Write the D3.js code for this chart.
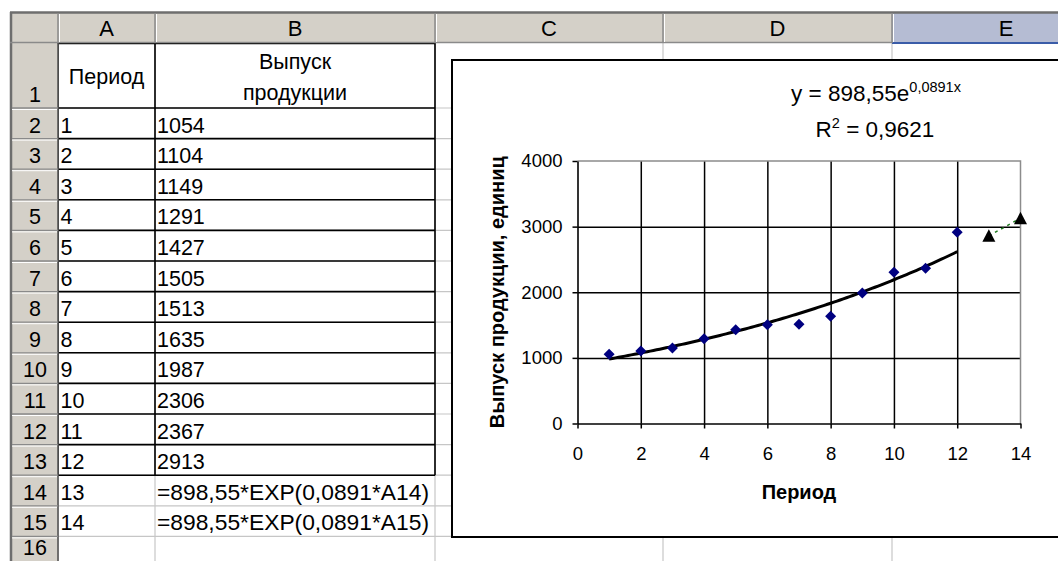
<!DOCTYPE html>
<html><head><meta charset="utf-8">
<script src="https://cdn.jsdelivr.net/npm/d3@7"></script>
<style>
body{margin:0;background:#fff;}
svg{display:block;}
text{font-family:Arial,"Liberation Sans",sans-serif;fill:#000;}
</style>
</head><body>
<svg id="c" width="1058" height="561"></svg>
<script>
// ---------- data ----------
const periods = [1,2,3,4,5,6,7,8,9,10,11,12];
const output = [1054,1104,1149,1291,1427,1505,1513,1635,1987,2306,2367,2913];
const forecastPeriods = [13,14];
const forecastOutput = [2860,3128];
const forecastFormulas = ["=898,55*EXP(0,0891*A14)","=898,55*EXP(0,0891*A15)"];
const trendCoefA = 898.55;
const trendCoefB = 0.0891;
const equationBase = "y = 898,55e";
const equationExp = "0,0891x";
const rSquaredText = " = 0,9621";
const xTickValues = [0,2,4,6,8,10,12,14];
const yTickValues = [0,1000,2000,3000,4000];
const columnLetters = ["A","B","C","D","E"];
const rowNumbers = [1,2,3,4,5,6,7,8,9,10,11,12,13,14,15,16];
const headerA = "Период";
const headerB = ["Выпуск","продукции"];
const xAxisTitle = "Период";
const yAxisTitle = "Выпуск продукции, единиц";

// ---------- sheet geometry ----------
const svg = d3.select("#c");
const colEdges = [58,155,435,663,892,1120];
const rowH = 30.6;
const rowBot = r => r===1 ? 108 : 108 + (r-1)*rowH;
const textY = r => Math.min(rowBot(r)-6, 555);
const grid = "#c6c6c6", hdr = "#d4d0c8", hdrLine = "#8a8a8a";

// light gridlines
const g0 = svg.append("g");
rowNumbers.forEach(r => {
  g0.append("line").attr("x1",58).attr("x2",1058).attr("y1",rowBot(r)).attr("y2",rowBot(r))
    .attr("stroke",grid).attr("stroke-width",1.2);
});
colEdges.forEach(x => {
  g0.append("line").attr("x1",x).attr("x2",x).attr("y1",43).attr("y2",561)
    .attr("stroke",grid).attr("stroke-width",1.2);
});

// black table borders A1:B13
const gb = svg.append("g").attr("stroke","#000").attr("stroke-width",1.6);
[58,155,435].forEach(x => gb.append("line").attr("x1",x).attr("x2",x).attr("y1",43).attr("y2",rowBot(13)));
gb.append("line").attr("x1",58).attr("x2",435).attr("y1",43.5).attr("y2",43.5);
for (let r=1;r<=13;r++) gb.append("line").attr("x1",58).attr("x2",435).attr("y1",rowBot(r)).attr("y2",rowBot(r));

// headers
svg.append("rect").attr("x",10).attr("y",12).attr("width",1048).attr("height",31).attr("fill",hdr);
svg.append("rect").attr("x",892).attr("y",13).attr("width",166).attr("height",30).attr("fill","#b5bcd3");
svg.append("line").attr("x1",892).attr("x2",1058).attr("y1",43).attr("y2",43).attr("stroke","#3a5ca8").attr("stroke-width",2);
svg.append("rect").attr("x",10).attr("y",43).attr("width",48).attr("height",518).attr("fill",hdr);
svg.append("line").attr("x1",10).attr("x2",1058).attr("y1",12.5).attr("y2",12.5).attr("stroke","#6e6e6e").attr("stroke-width",2.5);
svg.append("line").attr("x1",11).attr("x2",11).attr("y1",12).attr("y2",561).attr("stroke","#6e6e6e").attr("stroke-width",2.5);
svg.append("line").attr("x1",10).attr("x2",892).attr("y1",42.5).attr("y2",42.5).attr("stroke",hdrLine).attr("stroke-width",1.5);
[58,155,435,663,892].forEach(x => {
  svg.append("line").attr("x1",x).attr("x2",x).attr("y1",13).attr("y2",43).attr("stroke",hdrLine).attr("stroke-width",1.5);
  svg.append("line").attr("x1",x+1.5).attr("x2",x+1.5).attr("y1",14).attr("y2",42).attr("stroke","#fff").attr("stroke-width",1);
});
svg.append("line").attr("x1",58).attr("x2",58).attr("y1",43).attr("y2",561).attr("stroke","#555").attr("stroke-width",1.6);
rowNumbers.forEach(r => {
  svg.append("line").attr("x1",12).attr("x2",58).attr("y1",rowBot(r)).attr("y2",rowBot(r)).attr("stroke",hdrLine).attr("stroke-width",1.3);
  svg.append("line").attr("x1",12).attr("x2",57).attr("y1",rowBot(r)+1.5).attr("y2",rowBot(r)+1.5).attr("stroke","#fff").attr("stroke-width",1);
});

// header letters
columnLetters.forEach((c,i) => {
  svg.append("text").attr("x",(colEdges[i]+colEdges[i+1])/2).attr("y",36)
    .attr("text-anchor","middle").attr("font-size",22).text(c);
});
// row numbers
rowNumbers.forEach(r => {
  svg.append("text").attr("x",35).attr("y",textY(r))
    .attr("text-anchor","middle").attr("font-size",21.5).text(r);
});

// cell texts
const fs = 21.5;
svg.append("text").attr("x",106.5).attr("y",84).attr("text-anchor","middle").attr("font-size",fs).text(headerA);
svg.append("text").attr("x",295).attr("y",69).attr("text-anchor","middle").attr("font-size",fs).text(headerB[0]);
svg.append("text").attr("x",295).attr("y",100).attr("text-anchor","middle").attr("font-size",fs).text(headerB[1]);
periods.forEach((p,i) => {
  const r = i+2;
  svg.append("text").attr("x",60.5).attr("y",textY(r)).attr("font-size",fs).text(p);
  svg.append("text").attr("x",157).attr("y",textY(r)).attr("font-size",fs).text(output[i]);
});
forecastPeriods.forEach((p,i) => {
  const r = 14+i;
  svg.append("text").attr("x",60.5).attr("y",textY(r)).attr("font-size",fs).text(p);
  svg.append("text").attr("x",157).attr("y",textY(r)).attr("font-size",fs)
    .attr("textLength",272).attr("lengthAdjust","spacingAndGlyphs").text(forecastFormulas[i]);
});

// ---------- chart ----------
svg.append("rect").attr("x",452).attr("y",60).attr("width",700).attr("height",477)
  .attr("fill","#fff").attr("stroke","#000").attr("stroke-width",2);

const x = d3.scaleLinear().domain([0,14]).range([577.5,1020.5]);
const y = d3.scaleLinear().domain([0,4000]).range([423.5,161]);
const plot = svg.append("g");

// gridlines
plot.append("g").attr("transform",`translate(0,${y(0)})`)
  .call(d3.axisBottom(x).tickValues(xTickValues.filter(v=>v>0 && v<14)).tickSize(-(y(0)-y(4000))).tickFormat(""))
  .call(g => { g.select(".domain").remove(); g.selectAll("line").attr("stroke","#000").attr("stroke-width",1.5); });
plot.append("g").attr("transform",`translate(${x(0)},0)`)
  .call(d3.axisLeft(y).tickValues(yTickValues.filter(v=>v>0 && v<4000)).tickSize(-(x(14)-x(0))).tickFormat(""))
  .call(g => { g.select(".domain").remove(); g.selectAll("line").attr("stroke","#000").attr("stroke-width",1.5); });
// plot-area border (grey) top and right
plot.append("path").attr("d",`M${x(0)},${y(4000)}H${x(14)}V${y(0)}`).attr("fill","none").attr("stroke","#8c8c8c").attr("stroke-width",1.5);

// axes
const xAxis = plot.append("g").attr("transform",`translate(0,${y(0)})`)
  .call(d3.axisBottom(x).tickValues(xTickValues).tickSize(5).tickPadding(18).tickSizeOuter(0).tickFormat(d3.format("d")));
const yAxis = plot.append("g").attr("transform",`translate(${x(0)},0)`)
  .call(d3.axisLeft(y).tickValues(yTickValues).tickSize(5).tickPadding(10).tickSizeOuter(0).tickFormat(d3.format("d")));
[xAxis,yAxis].forEach(a => {
  a.select(".domain").attr("stroke","#000").attr("stroke-width",1.6);
  a.selectAll(".tick line").attr("stroke","#000").attr("stroke-width",1.5);
  a.selectAll(".tick text").attr("font-size",18.5).attr("font-family","Arial, 'Liberation Sans', sans-serif").attr("fill","#000");
});

// trendline
const trendX = d3.range(1, 12.001, 0.1);
plot.append("path")
  .datum(trendX)
  .attr("d", d3.line().x(d=>x(d)).y(d=>y(trendCoefA*Math.exp(trendCoefB*d))))
  .attr("fill","none").attr("stroke","#000").attr("stroke-width",3);

// forecast dashed connector
plot.append("path").datum(forecastPeriods.map((p,i)=>[p,forecastOutput[i]]))
  .attr("d", d3.line().x(d=>x(d[0])).y(d=>y(d[1])))
  .attr("fill","none").attr("stroke","#1f7a1f").attr("stroke-width",1.5).attr("stroke-dasharray","3,4");

// diamonds
plot.selectAll(".pt").data(periods).join("path")
  .attr("transform",(d,i)=>`translate(${x(d)},${y(output[i])})`)
  .attr("d","M0,-5.5L5.5,0L0,5.5L-5.5,0Z").attr("fill","#000080");
// triangles
plot.selectAll(".tri").data(forecastPeriods).join("path")
  .attr("transform",(d,i)=>`translate(${x(d)},${y(forecastOutput[i])})`)
  .attr("d","M0,-6.5L6.5,6L-6.5,6Z").attr("fill","#000");

// equation
const eq = svg.append("text").attr("x",876).attr("y",101).attr("text-anchor","middle").attr("font-size",22.5);
eq.append("tspan").text(equationBase);
eq.append("tspan").attr("dy",-9).attr("font-size",14.5).text(equationExp);
const r2 = svg.append("text").attr("x",875).attr("y",137).attr("text-anchor","middle").attr("font-size",22.5);
r2.append("tspan").text("R");
r2.append("tspan").attr("dy",-9).attr("font-size",14.5).text("2");
r2.append("tspan").attr("dy",9).text(rSquaredText);

// axis titles
svg.append("text").attr("x",799).attr("y",499).attr("text-anchor","middle")
  .attr("font-size",20).attr("font-weight","bold").text(xAxisTitle);
svg.append("text").attr("transform",`translate(504,${(y(0)+y(4000))/2}) rotate(-90)`)
  .attr("text-anchor","middle").attr("font-size",20).attr("font-weight","bold").text(yAxisTitle);
</script>
</body></html>
